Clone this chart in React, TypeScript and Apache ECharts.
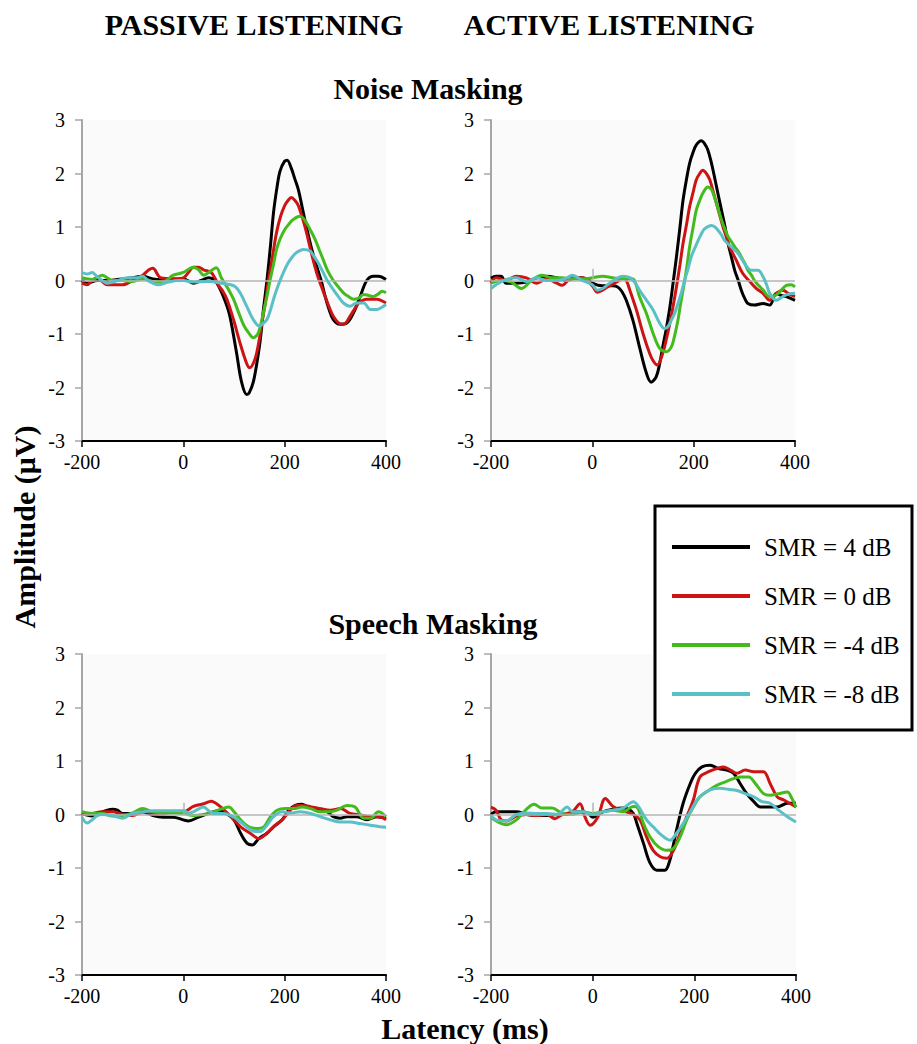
import React, { useEffect, useRef } from "react";
import * as echarts from "echarts";

const FONT = "Liberation Serif";

const seriesNames = ["SMR = 4 dB", "SMR = 0 dB", "SMR = -4 dB", "SMR = -8 dB"];
const seriesColors = ["#000000", "#cc1414", "#44bb1c", "#5bbfc6"];
const xTicks = { min: -200, max: 400, interval: 200 };
const yTicks = { min: -3, max: 3, interval: 1 };

// Noise masking, passive listening
const noisePassive4 = [[-200,0.0],[-190,-0.05],[-170,0.0],[-150,0.0],[-130,0.02],[-100,0.05],[-80,0.08],[-60,0.03],[-40,0.02],[-20,0.03],[0,0.03],[20,-0.05],[35,0.0],[50,0.05],[62,0.0],[73,-0.17],[85,-0.45],[92,-0.67],[105,-1.35],[115,-1.9],[125,-2.13],[130,-2.1],[138,-1.9],[145,-1.55],[152,-1.1],[158,-0.55],[165,0.0],[172,0.65],[178,1.27],[185,1.75],[191,2.05],[200,2.23],[205,2.25],[213,2.1],[220,1.9],[227,1.7],[235,1.35],[243,1.0],[253,0.6],[263,0.27],[272,0.0],[280,-0.3],[288,-0.55],[296,-0.73],[309,-0.82],[322,-0.8],[336,-0.6],[349,-0.3],[362,0.0],[375,0.08],[385,0.08],[400,0.02]];
const noisePassive0 = [[-200,-0.05],[-190,-0.08],[-180,0.0],[-170,0.05],[-160,-0.02],[-150,-0.08],[-120,-0.08],[-100,0.0],[-80,0.1],[-68,0.2],[-60,0.23],[-50,0.1],[-45,0.05],[-20,0.03],[0,0.05],[10,0.15],[20,0.25],[30,0.25],[40,0.2],[55,0.15],[62,0.05],[70,-0.1],[78,-0.2],[86,-0.35],[99,-0.73],[112,-1.17],[125,-1.55],[131,-1.63],[141,-1.48],[148,-1.2],[155,-0.8],[162,-0.4],[168,0.0],[176,0.45],[184,0.9],[192,1.2],[200,1.4],[207,1.5],[213,1.55],[220,1.5],[227,1.4],[235,1.17],[243,0.9],[253,0.5],[263,0.15],[272,-0.1],[280,-0.3],[288,-0.5],[296,-0.67],[305,-0.78],[313,-0.82],[320,-0.8],[329,-0.67],[337,-0.55],[346,-0.42],[354,-0.37],[362,-0.35],[382,-0.35],[392,-0.38],[400,-0.42]];
const noisePassiveM4 = [[-200,0.05],[-180,0.02],[-165,0.08],[-160,0.1],[-150,0.05],[-140,0.0],[-120,0.0],[-100,-0.02],[-80,0.03],[-60,-0.02],[-40,-0.03],[-20,0.1],[0,0.15],[20,0.25],[30,0.2],[40,0.1],[50,0.15],[65,0.24],[75,0.05],[88,-0.15],[99,-0.35],[112,-0.67],[120,-0.85],[129,-0.98],[138,-1.07],[148,-0.98],[158,-0.6],[165,-0.3],[171,0.0],[178,0.3],[184,0.58],[192,0.8],[200,0.95],[208,1.05],[217,1.14],[230,1.2],[237,1.16],[243,1.08],[252,0.92],[260,0.77],[268,0.58],[276,0.39],[285,0.18],[296,0.0],[306,-0.12],[316,-0.23],[326,-0.3],[336,-0.35],[346,-0.33],[356,-0.26],[366,-0.28],[375,-0.3],[385,-0.25],[392,-0.2],[400,-0.23]];
const noisePassiveM8 = [[-200,0.15],[-190,0.12],[-180,0.15],[-170,0.07],[-160,0.0],[-150,-0.05],[-130,0.0],[-110,0.05],[-90,0.05],[-80,0.08],[-70,0.0],[-60,-0.05],[-50,-0.08],[-30,-0.03],[-10,0.0],[0,0.0],[20,-0.03],[50,-0.02],[75,-0.05],[100,-0.1],[112,-0.23],[125,-0.48],[138,-0.73],[150,-0.85],[158,-0.8],[165,-0.73],[172,-0.55],[178,-0.35],[185,-0.15],[191,0.0],[199,0.18],[207,0.33],[215,0.44],[223,0.52],[237,0.58],[250,0.55],[258,0.45],[266,0.33],[275,0.17],[283,0.02],[296,-0.17],[306,-0.3],[316,-0.42],[329,-0.48],[342,-0.42],[356,-0.42],[369,-0.54],[382,-0.54],[392,-0.5],[400,-0.45]];

// Noise masking, active listening
const noiseActive4 = [[-200,0.04],[-190,0.08],[-180,0.08],[-170,-0.05],[-150,-0.05],[-130,-0.03],[-110,0.05],[-90,0.08],[-70,0.05],[-50,0.0],[-30,0.05],[-10,0.03],[0,-0.05],[20,-0.1],[40,-0.1],[50,-0.12],[58,-0.2],[67,-0.37],[80,-0.74],[93,-1.24],[107,-1.74],[116,-1.9],[126,-1.8],[133,-1.55],[139,-1.24],[146,-0.9],[153,-0.5],[160,0.0],[166,0.44],[173,1.0],[179,1.5],[186,1.9],[192,2.19],[199,2.4],[205,2.53],[215,2.61],[222,2.55],[228,2.44],[235,2.2],[241,1.94],[248,1.62],[255,1.31],[262,1.0],[268,0.69],[275,0.42],[281,0.19],[288,0.0],[294,-0.18],[300,-0.32],[307,-0.43],[320,-0.46],[337,-0.43],[350,-0.46],[363,-0.24],[373,-0.28],[383,-0.3],[400,-0.37]];
const noiseActive0 = [[-200,-0.05],[-190,0.05],[-170,0.0],[-150,0.08],[-130,0.05],[-110,-0.05],[-90,0.03],[-70,-0.05],[-60,-0.09],[-40,0.05],[-20,0.05],[0,-0.1],[10,-0.22],[20,-0.18],[30,-0.12],[50,-0.02],[60,0.05],[67,0.0],[74,-0.18],[87,-0.55],[100,-0.99],[113,-1.36],[120,-1.5],[128,-1.58],[139,-1.36],[146,-1.1],[153,-0.8],[160,-0.45],[166,-0.12],[173,0.3],[179,0.69],[186,1.05],[192,1.38],[199,1.65],[205,1.88],[212,2.0],[218,2.06],[225,2.0],[232,1.88],[238,1.68],[245,1.44],[252,1.2],[258,1.0],[265,0.8],[271,0.63],[284,0.38],[297,0.13],[311,-0.02],[324,-0.15],[337,-0.24],[350,-0.37],[363,-0.24],[376,-0.18],[388,-0.25],[400,-0.3]];
const noiseActiveM4 = [[-200,-0.05],[-180,0.0],[-160,-0.03],[-140,-0.15],[-120,0.0],[-100,0.1],[-80,0.05],[-60,0.05],[-40,0.03],[-20,0.03],[0,0.05],[20,0.08],[40,0.05],[60,0.03],[80,0.03],[87,-0.1],[93,-0.3],[107,-0.62],[120,-0.99],[133,-1.27],[146,-1.33],[156,-1.24],[162,-1.05],[169,-0.74],[174,-0.45],[179,-0.18],[186,0.22],[192,0.63],[199,1.0],[205,1.31],[212,1.5],[218,1.63],[228,1.75],[235,1.7],[241,1.56],[248,1.35],[255,1.13],[262,0.95],[268,0.82],[275,0.72],[281,0.63],[288,0.54],[294,0.44],[301,0.32],[307,0.19],[314,0.1],[320,0.0],[329,-0.1],[337,-0.18],[350,-0.3],[363,-0.27],[373,-0.18],[383,-0.09],[392,-0.08],[400,-0.12]];
const noiseActiveM8 = [[-200,-0.15],[-190,-0.08],[-170,0.02],[-150,0.05],[-130,-0.02],[-110,0.05],[-90,0.0],[-70,0.0],[-50,0.05],[-40,0.1],[-20,0.0],[0,-0.08],[10,-0.18],[20,-0.15],[30,-0.08],[50,0.05],[60,0.08],[75,0.05],[85,-0.05],[93,-0.18],[107,-0.37],[120,-0.55],[133,-0.8],[143,-0.9],[150,-0.85],[156,-0.74],[163,-0.6],[169,-0.43],[176,-0.22],[182,0.0],[189,0.22],[195,0.44],[202,0.6],[209,0.75],[215,0.87],[222,0.97],[235,1.03],[242,1.0],[248,0.94],[255,0.85],[261,0.75],[274,0.63],[288,0.5],[301,0.31],[314,0.19],[327,0.19],[337,0.07],[344,-0.08],[350,-0.24],[363,-0.37],[376,-0.3],[388,-0.25],[400,-0.24]];

// Speech masking, passive listening
const speechPassive4 = [[-200,0.02],[-180,-0.03],[-160,0.05],[-140,0.1],[-130,0.08],[-120,0.02],[-100,0.02],[-80,0.05],[-60,-0.02],[-40,-0.05],[-20,-0.05],[0,-0.1],[10,-0.12],[30,-0.05],[50,0.02],[70,0.07],[85,0.02],[100,-0.1],[113,-0.35],[126,-0.54],[136,-0.57],[149,-0.45],[165,-0.35],[178,-0.23],[195,-0.1],[208,0.08],[221,0.17],[234,0.19],[247,0.14],[264,0.11],[280,0.08],[296,-0.04],[310,-0.07],[323,-0.04],[342,-0.04],[362,-0.1],[382,-0.04],[400,-0.07]];
const speechPassive0 = [[-200,0.0],[-180,0.02],[-160,0.05],[-140,0.05],[-120,0.0],[-100,-0.02],[-80,0.05],[-60,0.03],[-40,0.0],[-20,0.05],[0,0.05],[20,0.15],[40,0.2],[55,0.25],[70,0.17],[90,0.0],[100,-0.1],[113,-0.23],[132,-0.35],[149,-0.45],[165,-0.35],[178,-0.23],[195,-0.1],[211,0.08],[224,0.17],[237,0.17],[253,0.14],[270,0.11],[290,0.08],[310,0.11],[329,0.02],[349,-0.01],[369,-0.04],[388,-0.04],[400,-0.1]];
const speechPassiveM4 = [[-200,0.05],[-180,0.02],[-160,0.02],[-140,-0.03],[-120,-0.02],[-100,0.03],[-80,0.11],[-60,0.05],[-40,0.03],[-20,0.03],[0,0.02],[20,-0.02],[40,0.0],[60,0.05],[80,0.12],[90,0.14],[100,0.05],[113,-0.1],[129,-0.23],[146,-0.26],[159,-0.23],[172,-0.04],[185,0.08],[201,0.11],[218,0.11],[234,0.14],[251,0.11],[270,0.05],[290,0.05],[303,0.08],[323,0.17],[339,0.14],[356,-0.07],[369,-0.07],[385,0.05],[400,-0.04]];
const speechPassiveM8 = [[-200,-0.05],[-190,-0.16],[-180,-0.1],[-170,-0.02],[-160,0.0],[-140,-0.02],[-120,-0.07],[-100,0.02],[-80,0.05],[-60,0.07],[-40,0.07],[-20,0.07],[0,0.07],[10,0.03],[20,0.05],[40,0.14],[50,0.07],[60,0.02],[80,0.02],[100,-0.05],[113,-0.14],[129,-0.26],[142,-0.32],[152,-0.32],[165,-0.2],[178,-0.04],[195,0.05],[211,0.03],[231,0.05],[251,0.02],[270,-0.04],[290,-0.1],[310,-0.14],[329,-0.14],[349,-0.17],[369,-0.2],[388,-0.23],[400,-0.24]];

// Speech masking, active listening
const speechActive4 = [[-200,0.0],[-190,0.05],[-170,0.05],[-150,0.05],[-130,0.0],[-110,-0.02],[-90,-0.02],[-70,0.0],[-50,0.0],[-30,0.05],[-10,0.03],[0,-0.05],[20,0.05],[40,0.1],[60,0.12],[70,0.1],[80,0.02],[87,-0.17],[100,-0.54],[113,-0.91],[126,-1.04],[142,-1.04],[152,-0.85],[158,-0.6],[165,-0.29],[178,0.21],[192,0.58],[202,0.77],[215,0.89],[231,0.92],[248,0.86],[264,0.83],[277,0.77],[290,0.58],[303,0.39],[317,0.24],[330,0.14],[343,0.14],[363,0.14],[383,0.21],[400,0.21]];
const speechActive0 = [[-200,0.14],[-190,0.08],[-180,-0.1],[-170,-0.12],[-150,-0.03],[-130,0.0],[-110,-0.02],[-90,0.0],[-75,-0.08],[-60,0.0],[-40,0.05],[-25,0.2],[-15,-0.05],[-5,-0.2],[10,-0.05],[25,0.3],[40,0.15],[60,0.07],[80,0.0],[93,-0.1],[106,-0.42],[119,-0.67],[133,-0.79],[146,-0.82],[159,-0.67],[172,-0.35],[185,-0.04],[198,0.27],[211,0.7],[228,0.8],[245,0.86],[257,0.89],[271,0.83],[284,0.77],[300,0.83],[317,0.8],[336,0.8],[349,0.58],[363,0.33],[376,0.27],[400,0.14]];
const speechActiveM4 = [[-200,-0.05],[-190,-0.12],[-170,-0.19],[-150,-0.1],[-130,0.1],[-115,0.19],[-100,0.12],[-80,0.12],[-60,0.02],[-40,0.0],[-20,0.05],[0,0.02],[20,0.05],[40,0.08],[60,0.05],[80,0.15],[87,0.14],[100,-0.17],[113,-0.42],[129,-0.6],[146,-0.67],[159,-0.63],[172,-0.42],[185,-0.1],[198,0.14],[211,0.33],[228,0.45],[245,0.55],[261,0.61],[277,0.67],[290,0.7],[307,0.7],[320,0.58],[336,0.39],[349,0.36],[366,0.39],[383,0.42],[392,0.3],[400,0.14]];
const speechActiveM8 = [[-200,-0.02],[-190,-0.1],[-170,-0.12],[-150,0.0],[-130,0.03],[-110,0.02],[-90,0.02],[-70,0.0],[-50,0.14],[-40,0.05],[-20,0.05],[0,0.0],[20,0.05],[40,0.08],[60,0.12],[80,0.24],[90,0.15],[106,-0.1],[119,-0.23],[136,-0.39],[152,-0.48],[165,-0.35],[178,-0.17],[192,0.05],[205,0.27],[218,0.39],[234,0.47],[251,0.49],[267,0.47],[284,0.45],[300,0.39],[317,0.33],[333,0.24],[349,0.21],[366,0.08],[383,-0.04],[400,-0.14]];

const panelData = [
  [noisePassive4, noisePassive0, noisePassiveM4, noisePassiveM8],
  [noiseActive4, noiseActive0, noiseActiveM4, noiseActiveM8],
  [speechPassive4, speechPassive0, speechPassiveM4, speechPassiveM8],
  [speechActive4, speechActive0, speechActiveM4, speechActiveM8],
];

const grids = [
  { left: 82, top: 120, width: 304, height: 321 },
  { left: 491, top: 120, width: 304, height: 321 },
  { left: 82, top: 654, width: 304, height: 321 },
  { left: 491, top: 654, width: 305, height: 321 },
];
const showZeroStub = [false, true, true, true];

export default function App() {
  const ref = useRef<HTMLDivElement>(null);
  useEffect(() => {
    if (!ref.current) return;
    const chart = echarts.init(ref.current, null, { renderer: "svg" });
    const series: any[] = [];
    panelData.forEach((panel, gi) => {
      const stubData: any[] = [{ yAxis: 0 }];
      if (showZeroStub[gi]) stubData.push([{ coord: [0, 0] }, { coord: [0, 0.22] }]);
      series.push({
        type: "line",
        xAxisIndex: gi,
        yAxisIndex: gi,
        data: [],
        z: 1,
        silent: true,
        markLine: {
          silent: true,
          symbol: ["none", "none"],
          label: { show: false },
          lineStyle: { color: "#b4b4b4", width: 1.5, type: "solid" },
          data: stubData,
        },
      });
      panel.forEach((d, si) => {
        series.push({
          name: seriesNames[si],
          type: "line",
          xAxisIndex: gi,
          yAxisIndex: gi,
          data: d,
          showSymbol: false,
          symbol: "none",
          smooth: 0.35,
          lineStyle: { color: seriesColors[si], width: 3 },
          itemStyle: { color: seriesColors[si] },
          z: 2 + si,
        });
      });
    });

    const titleText = (text: string, x: number, y: number, size: number, bold = true, rotation = 0) => ({
      type: "text",
      x,
      y,
      rotation,
      z: 20,
      style: {
        text,
        font: `${bold ? "bold " : ""}${size}px ${FONT}`,
        fill: "#000",
        textAlign: "center",
        textVerticalAlign: "middle",
        verticalAlign: "middle",
      },
    });

    chart.setOption({
      animation: false,
      backgroundColor: "#ffffff",
      textStyle: { fontFamily: FONT, color: "#000" },
      grid: grids.map((g) => ({ ...g, show: true, backgroundColor: "#fafafa", borderWidth: 0 })),
      xAxis: grids.map((_, i) => ({
        gridIndex: i,
        type: "value",
        min: xTicks.min,
        max: xTicks.max,
        interval: xTicks.interval,
        axisLine: { show: true, onZero: false, lineStyle: { color: "#000", width: 2 } },
        axisTick: { show: true, length: 6, lineStyle: { color: "#000", width: 1.5 } },
        axisLabel: { fontSize: 20, color: "#000", fontFamily: FONT, margin: 11 },
        splitLine: { show: false },
      })),
      yAxis: grids.map((_, i) => ({
        gridIndex: i,
        type: "value",
        min: yTicks.min,
        max: yTicks.max,
        interval: yTicks.interval,
        axisLine: { show: true, onZero: false, lineStyle: { color: "#a6a6a6", width: 2 } },
        axisTick: { show: true, length: 7, lineStyle: { color: "#a6a6a6", width: 1.5 } },
        axisLabel: { fontSize: 20, color: "#000", fontFamily: FONT, margin: 17 },
        splitLine: { show: false },
      })),
      legend: {
        data: seriesNames,
        orient: "vertical",
        left: 672,
        top: 533,
        padding: 0,
        icon: "rect",
        itemWidth: 78,
        itemHeight: 4,
        itemGap: 21,
        z: 30,
        selectedMode: false,
        textStyle: { fontSize: 25, lineHeight: 28, color: "#000", fontFamily: FONT, padding: [0, 0, 0, 9] },
      },
      graphic: [
        {
          type: "rect",
          z: 25,
          shape: { x: 655, y: 506, width: 257, height: 224 },
          style: { fill: "#ffffff", stroke: "#000", lineWidth: 3 },
        },
        titleText("PASSIVE LISTENING", 254, 24, 30),
        titleText("ACTIVE LISTENING", 609, 24, 30),
        titleText("Noise Masking", 428, 88, 30),
        titleText("Speech Masking", 433, 623, 30),
        titleText("Latency (ms)", 465, 1028, 30),
        titleText("Amplitude (\u03bcV)", 24, 527, 30, true, Math.PI / 2),
      ],
      series,
    });
    return () => chart.dispose();
  }, []);
  return (
    <div
      ref={ref}
      style={{ position: "absolute", left: 0, top: 0, width: 917, height: 1044, background: "#fff" }}
    />
  );
}
